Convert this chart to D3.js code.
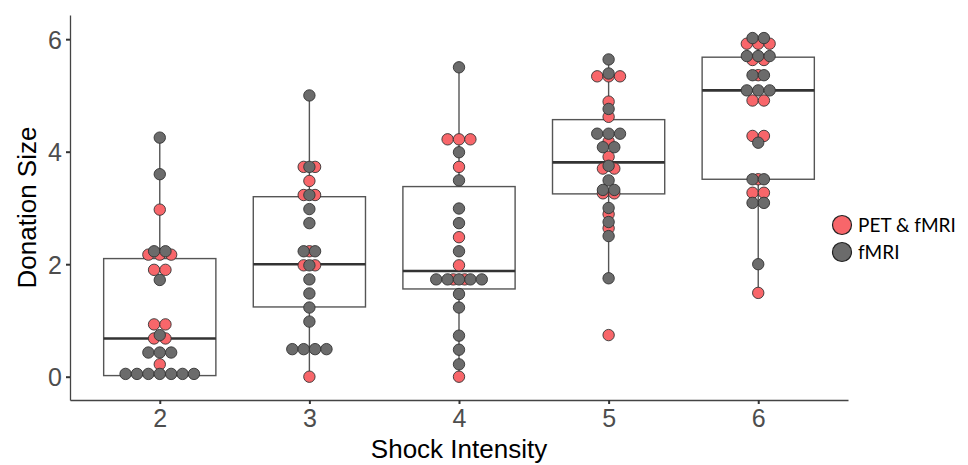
<!DOCTYPE html>
<html lang="en">
<head>
    <meta charset="UTF-8">
    <title>Donation Size by Shock Intensity</title>
    <style>
        body {
            margin: 0;
            padding: 0;
            background-color: #fff;
        }
        .tick text {
            font-family: 'Liberation Sans', Arial, sans-serif;
            font-size: 25px;
            fill: #4d4d4d;
        }
        .axis-title {
            font-family: 'Liberation Sans', Arial, sans-serif;
            font-size: 26px;
            fill: #000;
        }
        .legend-label {
            font-family: 'Lato', 'Open Sans', sans-serif;
            font-size: 19px;
            fill: #000;
        }
    </style>
</head>
<body>
    <svg id="chart"></svg>

    <script src="https://d3js.org/d3.v7.min.js"></script>
    <script>
        // Data
        const categories = ['2', '3', '4', '5', '6'];

        // PET & fMRI participants (red dots), one entry per dot
        const petValues = [
            [2.97, 2.17, 2.17, 2.17, 1.9, 1.9, 0.93, 0.93, 0.68, 0.68, 0.22],
            [3.73, 3.73, 3.48, 3.23, 3.23, 2.23, 1.98, 1.98, 0.0],
            [4.22, 4.22, 4.22, 3.73, 2.48, 1.98, 1.73, 1.73, 0.0],
            [5.34, 5.34, 5.34, 4.89, 4.62, 4.18, 3.91, 3.7, 3.7, 3.26, 3.26, 2.89, 2.64, 0.74],
            [5.92, 5.92, 5.92, 5.63, 5.63, 5.36, 4.91, 4.91, 4.28, 4.28, 3.51, 3.27, 3.27, 1.49]
        ];

        // fMRI only participants (grey dots)
        const fmriValues = [
            [4.25, 3.6, 2.23, 2.23, 1.72, 0.74, 0.43, 0.43, 0.43, 0.05, 0.05, 0.05, 0.05, 0.05, 0.05, 0.05],
            [5.0, 3.73, 3.23, 2.98, 2.73, 2.23, 2.23, 1.98, 1.73, 1.48, 1.23, 0.98, 0.49, 0.49, 0.49, 0.49],
            [5.5, 3.99, 3.49, 2.99, 2.73, 2.23, 1.73, 1.73, 1.73, 1.73, 1.73, 1.47, 1.23, 0.73, 0.48, 0.22],
            [5.64, 5.39, 4.76, 4.32, 4.32, 4.32, 4.08, 4.08, 3.75, 3.49, 3.32, 3.32, 3.0, 2.75, 2.5, 1.75],
            [6.02, 6.02, 5.7, 5.7, 5.7, 5.36, 5.36, 5.09, 5.09, 5.09, 4.16, 3.51, 3.51, 3.09, 3.09, 2.0]
        ];

        // Box plot statistics
        const whiskerLow = [0.02, 0.0, 0.0, 1.75, 1.49];
        const boxQ1 = [0.02, 1.24, 1.56, 3.25, 3.51];
        const boxMedian = [0.68, 2.0, 1.88, 3.81, 5.09];
        const boxQ3 = [2.1, 3.2, 3.38, 4.57, 5.68];
        const whiskerHigh = [4.25, 5.0, 5.5, 5.64, 6.02];

        const yTicks = [0, 2, 4, 6];
        const legendLabels = ['PET & fMRI', 'fMRI'];
        const colors = ['#f8666a', '#6b6b6b'];

        // Dimensions
        const width = 968;
        const height = 465;
        const plot = { left: 70, right: 848, top: 15, bottom: 400 };

        const svg = d3.select('#chart')
            .attr('width', width)
            .attr('height', height);

        const x = d3.scalePoint()
            .domain(categories)
            .range([plot.left, plot.right])
            .padding(0.6);

        const y = d3.scaleLinear()
            .domain([-0.414, 6.43])
            .range([plot.bottom, plot.top]);

        const boxWidth = x.step() * 0.75;
        const dotR = 5.7;
        const dotStep = 11.4;

        // Axes
        const yAxis = svg.append('g')
            .attr('transform', `translate(${plot.left},0)`)
            .call(d3.axisLeft(y).tickValues(yTicks).tickFormat(d3.format('d'))
                .tickSize(4).tickSizeOuter(0).tickPadding(4));

        const xAxis = svg.append('g')
            .attr('transform', `translate(0,${plot.bottom})`)
            .call(d3.axisBottom(x).tickSize(4).tickSizeOuter(0).tickPadding(5));

        [yAxis, xAxis].forEach(g => {
            g.select('.domain').attr('stroke', '#444').attr('stroke-width', 1.3);
            g.selectAll('.tick line').attr('stroke', '#333').attr('stroke-width', 2);
        });
        yAxis.selectAll('.tick text').attr('dy', '0.36em');

        // Axis titles
        svg.append('text')
            .attr('class', 'axis-title')
            .attr('x', (plot.left + plot.right) / 2)
            .attr('y', 458)
            .attr('text-anchor', 'middle')
            .text('Shock Intensity');

        svg.append('text')
            .attr('class', 'axis-title')
            .attr('transform', `translate(36,${(plot.top + plot.bottom) / 2}) rotate(-90)`)
            .attr('text-anchor', 'middle')
            .text('Donation Size');

        // Boxes
        const boxes = svg.append('g').selectAll('g')
            .data(categories)
            .enter()
            .append('g');

        boxes.append('line')
            .attr('x1', d => x(d)).attr('x2', d => x(d))
            .attr('y1', (d, i) => y(boxQ3[i])).attr('y2', (d, i) => y(whiskerHigh[i]))
            .attr('stroke', '#555').attr('stroke-width', 1.4);

        boxes.append('line')
            .attr('x1', d => x(d)).attr('x2', d => x(d))
            .attr('y1', (d, i) => y(boxQ1[i])).attr('y2', (d, i) => y(whiskerLow[i]))
            .attr('stroke', '#555').attr('stroke-width', 1.4);

        boxes.append('rect')
            .attr('x', d => x(d) - boxWidth / 2)
            .attr('width', boxWidth)
            .attr('y', (d, i) => y(boxQ3[i]))
            .attr('height', (d, i) => y(boxQ1[i]) - y(boxQ3[i]))
            .attr('fill', 'none')
            .attr('stroke', '#555')
            .attr('stroke-width', 1.4);

        boxes.append('line')
            .attr('x1', d => x(d) - boxWidth / 2).attr('x2', d => x(d) + boxWidth / 2)
            .attr('y1', (d, i) => y(boxMedian[i])).attr('y2', (d, i) => y(boxMedian[i]))
            .attr('stroke', '#333').attr('stroke-width', 2.6);

        // Dot stacks: equal values are stacked side by side, centred on the category
        function stack(values, cat) {
            const groups = d3.group(values, v => v);
            return Array.from(groups, ([v, arr]) =>
                arr.map((_, i) => ({ cat, v, k: i - (arr.length - 1) / 2 }))
            ).flat();
        }

        [petValues, fmriValues].forEach((series, s) => {
            const dots = categories.map((c, i) => stack(series[i], c)).flat();
            svg.append('g').selectAll('circle')
                .data(dots)
                .enter()
                .append('circle')
                .attr('cx', d => x(d.cat) + d.k * dotStep)
                .attr('cy', d => y(d.v))
                .attr('r', dotR)
                .attr('fill', colors[s])
                .attr('stroke', '#333')
                .attr('stroke-width', 0.9);
        });

        // Legend
        const legend = svg.append('g').selectAll('g')
            .data(legendLabels)
            .enter()
            .append('g')
            .attr('transform', (d, i) => `translate(842,${225 + i * 27})`);

        legend.append('circle')
            .attr('r', 9.5)
            .attr('fill', (d, i) => colors[i])
            .attr('stroke', '#222')
            .attr('stroke-width', 1.2);

        legend.append('text')
            .attr('class', 'legend-label')
            .attr('x', 16)
            .attr('dy', '0.36em')
            .text(d => d);
    </script>
</body>
</html>
